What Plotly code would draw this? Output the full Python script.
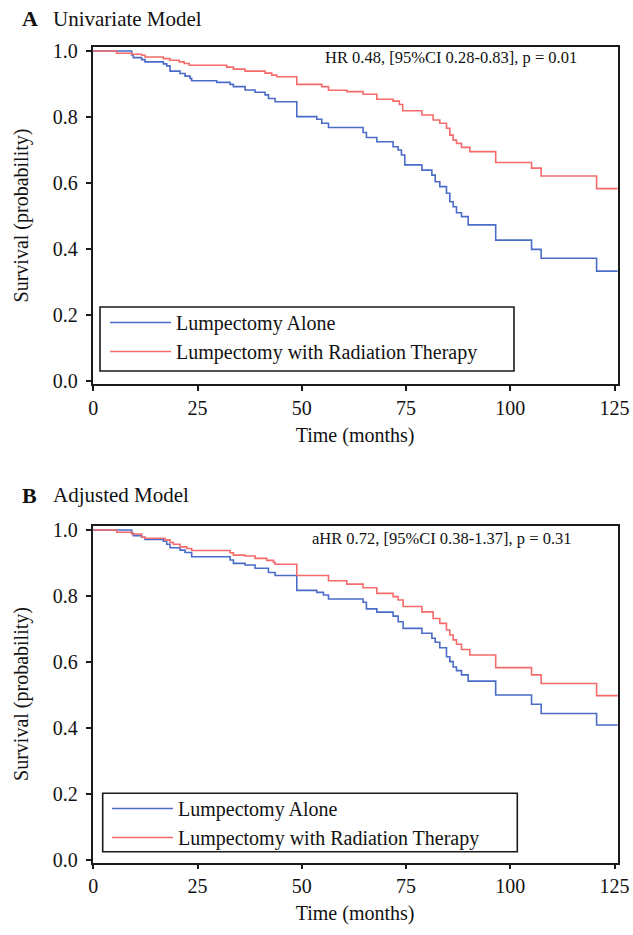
import plotly.graph_objects as go

W, H = 633, 935

# ---------------- data ----------------
# Panel A: Univariate model
a_alone_t = [0, 9.2, 9.6, 11.6, 12.4, 16.8, 17.6, 18.4, 20.8, 22.0, 23.2, 23.6, 29.6, 32.8, 33.6, 36.4,
             38.8, 41.2, 42.0, 43.6, 48.8, 53.6, 54.8, 56.4, 60.8, 64.7, 65.5, 68.0, 71.9, 73.1, 73.9,
             74.7, 78.8, 81.2, 82.0, 83.1, 84.7, 85.5, 86.3, 87.1, 88.3, 89.9, 96.5, 105.1, 107.4,
             120.7, 126.0]
a_alone_s = [1.0, 0.988, 0.980, 0.974, 0.967, 0.961, 0.955, 0.939, 0.932, 0.924, 0.917, 0.910, 0.905,
             0.899, 0.892, 0.882, 0.875, 0.867, 0.856, 0.846, 0.801, 0.793, 0.781, 0.768, 0.768, 0.753,
             0.738, 0.725, 0.710, 0.700, 0.685, 0.655, 0.639, 0.624, 0.604, 0.589, 0.569, 0.543, 0.528,
             0.510, 0.498, 0.473, 0.427, 0.399, 0.372, 0.333, 0.333]

a_rt_t = [0, 5.6, 9.2, 11.6, 12.4, 16.8, 18.4, 20.6, 21.8, 23.0, 32.0, 33.6, 36.4, 41.2, 42.8, 44.0,
          48.8, 54.8, 56.4, 60.8, 64.7, 68.0, 71.9, 73.4, 74.2, 78.8, 81.5, 83.1, 84.7, 85.5, 86.3,
          87.1, 88.3, 90.3, 96.5, 105.1, 107.4, 120.7, 126.0]
a_rt_s = [1.0, 0.993, 0.990, 0.987, 0.982, 0.977, 0.972, 0.967, 0.962, 0.957, 0.951, 0.945, 0.939,
          0.933, 0.927, 0.922, 0.899, 0.892, 0.881, 0.877, 0.869, 0.854, 0.848, 0.838, 0.819, 0.806,
          0.791, 0.781, 0.766, 0.745, 0.730, 0.720, 0.708, 0.695, 0.662, 0.645, 0.621, 0.583, 0.583]

# Panel B: Adjusted model
b_alone_t = [0, 9.2, 9.6, 11.6, 12.4, 16.8, 17.6, 18.4, 20.8, 22.0, 23.6, 32.8, 33.6, 36.4, 38.8,
             42.0, 43.6, 48.8, 53.6, 55.2, 56.4, 64.7, 65.5, 68.0, 71.9, 73.1, 74.3, 78.8, 81.2, 82.0,
             83.1, 84.7, 85.5, 86.3, 87.1, 88.3, 89.9, 96.5, 105.1, 107.4, 120.7, 126.0]
b_alone_s = [1.0, 0.990, 0.983, 0.978, 0.971, 0.966, 0.957, 0.946, 0.939, 0.932, 0.919, 0.909, 0.899,
             0.894, 0.884, 0.871, 0.862, 0.817, 0.811, 0.803, 0.791, 0.781, 0.761, 0.751, 0.739, 0.722,
             0.702, 0.687, 0.672, 0.660, 0.643, 0.616, 0.601, 0.585, 0.574, 0.561, 0.542, 0.500, 0.472,
             0.444, 0.409, 0.409]

b_rt_t = [0, 5.6, 9.2, 11.6, 12.4, 17.2, 18.4, 19.2, 20.8, 22.4, 23.6, 32.8, 33.6, 36.4, 38.8, 41.6,
          43.2, 43.6, 48.8, 56.4, 60.8, 64.7, 68.0, 71.9, 73.1, 74.3, 78.8, 81.5, 83.1, 84.7, 85.5,
          86.3, 87.1, 88.3, 90.3, 96.5, 105.1, 107.4, 120.7, 126.0]
b_rt_s = [1.0, 0.993, 0.988, 0.978, 0.975, 0.970, 0.962, 0.957, 0.949, 0.944, 0.938, 0.931, 0.924,
          0.921, 0.914, 0.908, 0.902, 0.896, 0.862, 0.846, 0.836, 0.825, 0.808, 0.798, 0.788, 0.768,
          0.752, 0.732, 0.717, 0.697, 0.682, 0.667, 0.654, 0.638, 0.621, 0.583, 0.561, 0.535, 0.498,
          0.498]

series_names = ["Lumpectomy Alone", "Lumpectomy with Radiation Therapy"]
x_ticks = [0, 25, 50, 75, 100, 125]
y_ticks = [0.0, 0.2, 0.4, 0.6, 0.8, 1.0]
panel_letters = ["A", "B"]
panel_titles = ["Univariate Model", "Adjusted Model"]
hr_texts = ["HR 0.48, [95%CI 0.28-0.83], p = 0.01", "aHR 0.72, [95%CI 0.38-1.37], p = 0.31"]

BLUE = "#4a6cc8"
RED = "#f56b6b"
FONT = "Liberation Serif"

# ---------------- layout helpers (pixel -> paper) ----------------
def px(x):
    return x / W

def py(y):
    return 1 - y / H

fig = go.Figure()

panels = [
    (a_alone_t, a_alone_s, a_rt_t, a_rt_s, "x", "y", "legend"),
    (b_alone_t, b_alone_s, b_rt_t, b_rt_s, "x2", "y2", "legend2"),
]
for at, as_, rt, rs, xa, ya, lg in panels:
    fig.add_trace(go.Scatter(x=at, y=as_, mode="lines", line=dict(color=BLUE, width=1.6, shape="hv"),
                             name=series_names[0], xaxis=xa, yaxis=ya, legend=lg, legendgroup=lg + "a"))
    fig.add_trace(go.Scatter(x=rt, y=rs, mode="lines", line=dict(color=RED, width=1.6, shape="hv"),
                             name=series_names[1], xaxis=xa, yaxis=ya, legend=lg, legendgroup=lg + "b"))

xdom = [px(92.5), px(617.7)]
frames = [(47, 384, [-3 / 330, 1 + 4 / 330]), (525.5, 862.5, [-2.5 / 330, 1 + 4.5 / 330])]

axis_common = dict(showline=True, linecolor="#1a1a1a", linewidth=1.6, mirror=True, ticks="outside",
                   ticklen=5, tickwidth=1.5, tickcolor="#1a1a1a", showgrid=False, zeroline=False,
                   automargin=False, tickfont=dict(family=FONT, size=20, color="#111"))

for i, (top, bot, yr) in enumerate(frames):
    sfx = "" if i == 0 else str(i + 1)
    fig.update_layout(**{
        "xaxis" + sfx: dict(axis_common, domain=xdom, range=[-0.19, 125.76], tickvals=x_ticks,
                            anchor="y" + sfx,
                            title=dict(text="Time (months)", font=dict(family=FONT, size=20, color="#111"),
                                       standoff=10)),
        "yaxis" + sfx: dict(axis_common, domain=[py(bot), py(top)], range=yr, tickvals=y_ticks,
                            tickformat=".1f", anchor="x" + sfx, ticklabelstandoff=4,
                            title=dict(text="Survival (probability)",
                                       font=dict(family=FONT, size=20, color="#111"), standoff=19)),
    })

ann = []
title_y = [19, 495]
hr_pos = [(451, 58), (441.5, 538)]
for i in range(2):
    ann.append(dict(text="<b>" + panel_letters[i] + "</b>", x=px(30), y=py(title_y[i]), xref="paper",
                    yref="paper", showarrow=False, xanchor="center", yanchor="middle",
                    font=dict(family=FONT, size=22, color="#111")))
    ann.append(dict(text=panel_titles[i], x=px(51), y=py(title_y[i]), xref="paper", yref="paper",
                    showarrow=False, xanchor="left", yanchor="middle",
                    font=dict(family=FONT, size=21, color="#111")))
    ann.append(dict(text=hr_texts[i], x=px(hr_pos[i][0]), y=py(hr_pos[i][1]), xref="paper", yref="paper",
                    showarrow=False, xanchor="center", yanchor="middle",
                    font=dict(family=FONT, size=16.5, color="#111")))

# legend boxes
boxes = [(100, 307, 514, 371), (102.7, 793.3, 517.3, 851.7)]
shapes = [dict(type="rect", xref="paper", yref="paper", x0=px(b[0]), x1=px(b[2]), y0=py(b[3]), y1=py(b[1]),
               line=dict(color="#1a1a1a", width=1.6), fillcolor="rgba(0,0,0,0)") for b in boxes]

leg_common = dict(font=dict(family=FONT, size=20, color="#111"), bgcolor="rgba(0,0,0,0)", borderwidth=0,
                  xanchor="left", yanchor="top", itemwidth=61, traceorder="normal")

fig.update_layout(
    width=W, height=H, margin=dict(l=0, r=0, t=0, b=0, autoexpand=False),
    paper_bgcolor="white", plot_bgcolor="white",
    annotations=ann, shapes=shapes,
    legend=dict(leg_common, x=px(105), y=py(303), tracegroupgap=2),
    legend2=dict(leg_common, x=px(107), y=py(789), tracegroupgap=0),
    showlegend=True,
)

fig.write_html("out.html", config={"displayModeBar": False},
               post_script="document.body.style.margin='0px';document.body.style.padding='0px';")
